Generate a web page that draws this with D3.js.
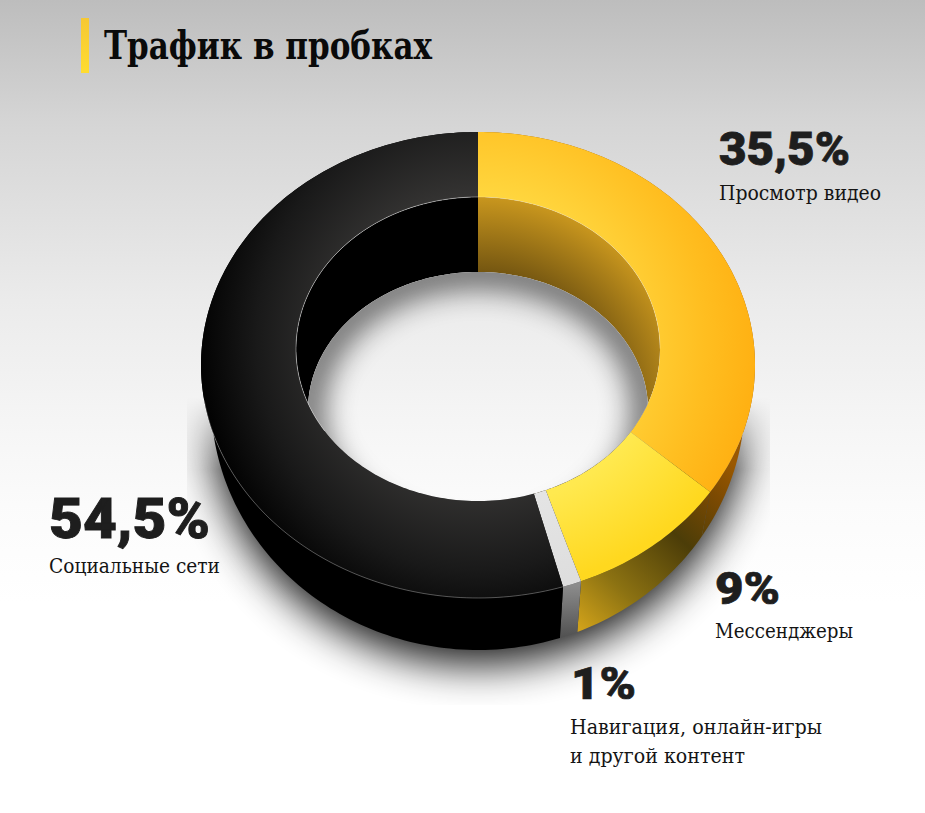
<!DOCTYPE html>
<html><head><meta charset="utf-8">
<script src="https://cdnjs.cloudflare.com/ajax/libs/d3/7.8.5/d3.min.js"></script>
<style>html,body{margin:0;padding:0;background:#fff;overflow:hidden}svg{display:block}</style>
</head><body><div id="chart"></div>
<script>
const title = "Трафик в пробках";
const categories = ["Просмотр видео", "Мессенджеры", "Навигация, онлайн-игры|и другой контент", "Социальные сети"];
const values = [35.5, 9, 1, 54.5];
const valueLabels = ["35,5%", "9%", "1%", "54,5%"];

const W = 925, H = 813;
const svg = d3.select("#chart").append("svg").attr("width", W).attr("height", H);
const defs = svg.append("defs");

function linear(id, p, stops) {
  const g = defs.append("linearGradient").attr("id", id).attr("gradientUnits", "userSpaceOnUse")
    .attr("x1", p[0]).attr("y1", p[1]).attr("x2", p[2]).attr("y2", p[3]);
  stops.forEach(s => { const st = g.append("stop").attr("offset", s[0]).attr("stop-color", s[1]); if (s[2] !== undefined) st.attr("stop-opacity", s[2]); });
}
function radial(id, c, stops) {
  const g = defs.append("radialGradient").attr("id", id).attr("gradientUnits", "userSpaceOnUse")
    .attr("cx", 0).attr("cy", 0).attr("r", 1)
    .attr("gradientTransform", `translate(${c[0]},${c[1]}) scale(${c[2]},${c[3]})`);
  stops.forEach(s => g.append("stop").attr("offset", s[0]).attr("stop-color", s[1]));
}
linear("bg", [0, 0, 0, H], [[0, "#bdbdbd"], [.15, "#d5d5d5"], [.37, "#ebebeb"], [.5, "#f4f4f4"], [.62, "#fbfbfb"], [.74, "#ffffff"]]);
linear("bar", [0, 18, 0, 73], [[0, "#f6c833"], [1, "#ffdc30"]]);
const ringStops = (a, b) => [[.64, a], [1, b]];
radial("top0", [478, 340, 277, 290], [[.5, "#ffd63e"], [.82, "#ffbe20"], [1, "#ffb113"]]);
radial("top1", [478, 358, 277, 233], ringStops("#ffe94f", "#ffd81f"));
radial("top2", [478, 358, 277, 233], ringStops("#e4e4e4", "#dedede"));
radial("top3", [478, 340, 277, 290], [[.5, "#343332"], [.8, "#191919"], [1, "#030303"]]);
linear("wall0", [570, 640, 735, 465], [[0, "#e2ae1c"], [.3, "#8c7212"], [.62, "#4c3d08"], [.85, "#7c4a02"], [1, "#9a5800"]]);
linear("wall1", [570, 640, 735, 465], [[0, "#e2ae1c"], [.3, "#8c7212"], [.62, "#4c3d08"], [.85, "#7c4a02"], [1, "#9a5800"]]);
linear("wall2", [0, 585, 0, 640], [[0, "#8c8c8c"], [1, "#4e4e4e"]]);
radial("inner0", [478, 410, 215, 215], [[0, "#5c430c"], [.62, "#6f5210"], [1, "#cb981e"]]);
linear("fade", [0, 397, 0, 470], [[0, "#fff", 0], [1, "#fff", 1]]);

const blur = (id, s) => defs.append("filter").attr("id", id)
  .attr("x", "-30%").attr("y", "-30%").attr("width", "160%").attr("height", "160%")
  .append("feGaussianBlur").attr("stdDeviation", s);
blur("blurBig", 21);
blur("blurHole", 15);

// Perspective ellipses of the ring
const topOuter = {cx: 478, cy: 365, rx: 277, ry: 233};
const topInner = {cx: 478, cy: 349, rx: 182, ry: 152};
const baseOuter = {cx: 478, cy: 400, rx: 267, ry: 250};
const baseInner = {cx: 478, cy: 410, rx: 170, ry: 138};

const warp = a => a - 0.105 * Math.sin(a);
const point = (e, a) => {
  const w = warp(a);
  return [e.cx + e.rx * Math.sin(w), e.cy - e.ry * Math.cos(w)];
};
const lineGen = d3.line();
const sample = (a0, a1) => {
  const n = Math.max(2, Math.ceil(Math.abs(a1 - a0) / 0.02));
  return d3.range(n + 1).map(i => a0 + (a1 - a0) * i / n);
};
const arcPts = (e, a0, a1) => sample(a0, a1).map(a => point(e, a));
const band = (e1, e2, a0, a1) => lineGen(arcPts(e1, a0, a1).concat(arcPts(e2, a1, a0))) + "Z";
const ring = e => lineGen(arcPts(e, 0, 2 * Math.PI)) + "Z";

const arcs = d3.pie().sort(null).value(d => d)(values);

// background
svg.append("rect").attr("width", W).attr("height", H).attr("fill", "url(#bg)");

// ground shadow, clipped to its box and fading out upward
defs.append("clipPath").attr("id", "shadowBox").append("rect")
  .attr("x", 187).attr("y", 397).attr("width", 583).attr("height", 308);
defs.append("mask").attr("id", "shadowFade").attr("maskUnits", "userSpaceOnUse")
  .attr("x", 0).attr("y", 0).attr("width", W).attr("height", H)
  .append("rect").attr("width", W).attr("height", H).attr("fill", "url(#fade)");
svg.append("g").attr("clip-path", "url(#shadowBox)").append("g").attr("mask", "url(#shadowFade)").append("path")
  .attr("d", ring({...baseOuter, cy: baseOuter.cy + 15}))
  .attr("fill", "#000").attr("opacity", .9).attr("filter", "url(#blurBig)");

// title
svg.append("rect").attr("x", 81).attr("y", 18).attr("width", 8).attr("height", 55).attr("fill", "url(#bar)");
svg.append("text").text(title).attr("x", 104).attr("y", 59)
  .attr("textLength", 328).attr("lengthAdjust", "spacingAndGlyphs")
  .attr("font-family", "'DejaVu Serif Condensed','DejaVu Serif',serif").attr("font-weight", 700)
  .attr("font-size", 39).attr("fill", "#0a0a0a");

// outer walls
svg.append("g").selectAll("path").data(arcs).join("path")
  .attr("d", d => band(topOuter, baseOuter, d.startAngle, d.endAngle))
  .attr("fill", (d, i) => i === 3 ? "#000" : `url(#wall${i})`);

// top face
svg.append("g").selectAll("path").data(arcs).join("path")
  .attr("d", d => band(topOuter, topInner, d.startAngle, d.endAngle))
  .attr("fill", (d, i) => `url(#top${i})`);

// hole: inner wall + floor, seen through the inner rim
defs.append("clipPath").attr("id", "rimClip").append("path").attr("d", ring(topInner));
defs.append("clipPath").attr("id", "floorClip").append("path").attr("d", ring(baseInner));
const hole = svg.append("g").attr("clip-path", "url(#rimClip)");
hole.append("g").selectAll("path").data(arcs).join("path")
  .attr("d", d => band(topInner, baseInner, d.startAngle, d.endAngle))
  .attr("fill", (d, i) => i === 3 ? "#000" : "url(#inner0)");
const floor = hole.append("g").attr("clip-path", "url(#floorClip)");
floor.append("rect").attr("width", W).attr("height", H).attr("fill", "url(#bg)");
floor.append("path").attr("d", ring(baseInner)).attr("fill", "none")
  .attr("stroke", "#000").attr("stroke-width", 30).attr("opacity", .6).attr("filter", "url(#blurHole)");

// hairlines on the black slice
const blackArc = arcs[3];
svg.append("path").attr("d", lineGen(arcPts(topInner, blackArc.startAngle + 1.2, blackArc.endAngle)))
  .attr("fill", "none").attr("stroke", "#fff").attr("stroke-opacity", .5).attr("stroke-width", .8);
svg.append("path").attr("d", lineGen(arcPts(topInner, 0, arcs[0].endAngle * .75)))
  .attr("fill", "none").attr("stroke", "#fff").attr("stroke-opacity", .25).attr("stroke-width", .8);
svg.append("path").attr("d", lineGen(arcPts(topOuter, blackArc.startAngle, blackArc.startAngle + 1.6)))
  .attr("fill", "none").attr("stroke", "#fff").attr("stroke-opacity", .38).attr("stroke-width", .8);

// labels
const valueLayout = [
  {x: 719, y: 165, w: 131, size: 47},
  {x: 715, y: 604, w: 65, size: 44},
  {x: 571, y: 699, w: 65, size: 44},
  {x: 49, y: 538, w: 161, size: 55}
];
const labelLayout = [
  [{x: 719, y: 200, w: 162}],
  [{x: 715, y: 638, w: 138}],
  [{x: 570, y: 734, w: 252}, {x: 570, y: 763, w: 175}],
  [{x: 49, y: 573, w: 171}]
];
const labels = svg.append("g");
valueLabels.forEach((t, i) => {
  const l = valueLayout[i];
  labels.append("text").text(t).attr("x", l.x).attr("y", l.y)
    .attr("textLength", l.w).attr("lengthAdjust", "spacingAndGlyphs")
    .attr("font-family", "Roboto,Inter,'Open Sans',sans-serif").attr("font-weight", 900)
    .attr("font-size", l.size).attr("fill", "#1e1e1e")
    .attr("stroke", "#1e1e1e").attr("stroke-width", l.size / 60);
  categories[i].split("|").forEach((line, j) => {
    const m = labelLayout[i][j];
    labels.append("text").text(line).attr("x", m.x).attr("y", m.y)
      .attr("textLength", m.w).attr("lengthAdjust", "spacingAndGlyphs")
      .attr("font-family", "'DejaVu Serif Condensed','DejaVu Serif',serif")
      .attr("font-size", 21).attr("fill", "#141414");
  });
});
</script></body></html>
